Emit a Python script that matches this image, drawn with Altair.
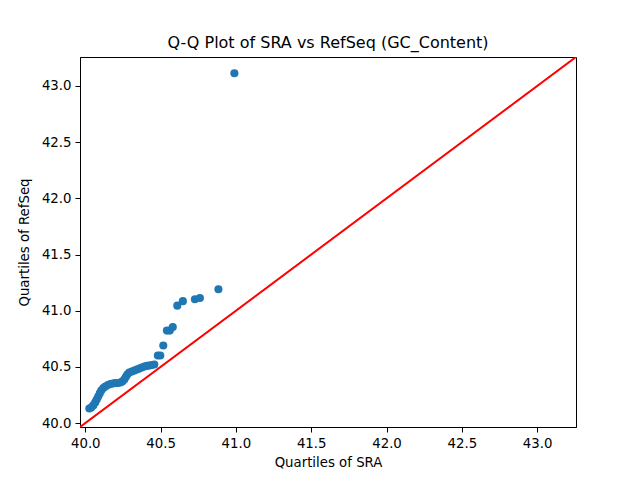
import altair as alt
import pandas as pd

# Sample quantiles of GC content (%) for the two sources
sra_q = [40.027, 40.040, 40.053, 40.066, 40.076, 40.086, 40.096, 40.106, 40.120,
         40.133, 40.150, 40.166, 40.183, 40.199, 40.216, 40.233, 40.246, 40.259,
         40.269, 40.279, 40.292, 40.309, 40.326, 40.342, 40.359, 40.375, 40.392,
         40.409, 40.425, 40.442, 40.458, 40.482, 40.498, 40.518, 40.542, 40.561,
         40.581, 40.611, 40.648, 40.728, 40.761, 40.884, 40.990]
refseq_q = [40.130, 40.139, 40.157, 40.184, 40.210, 40.237, 40.264, 40.290, 40.312,
            40.326, 40.339, 40.348, 40.352, 40.357, 40.357, 40.361, 40.370, 40.388,
            40.410, 40.432, 40.450, 40.459, 40.468, 40.477, 40.485, 40.494, 40.503,
            40.509, 40.512, 40.517, 40.521, 40.601, 40.601, 40.690, 40.823, 40.823,
            40.854, 41.045, 41.085, 41.102, 41.113, 41.191, 43.113]

# Shared axis limits; the reference line y = x spans them
lim = [39.965, 43.258]
ticks = [40.0, 40.5, 41.0, 41.5, 42.0, 42.5, 43.0]

pts = pd.DataFrame({"sra": sra_q, "refseq": refseq_q})
diag = pd.DataFrame({"sra": lim, "refseq": lim})

FONT = "DejaVu Sans"

x_enc = alt.X(
    "sra:Q",
    title="Quartiles of SRA",
    scale=alt.Scale(domain=lim, nice=False, zero=False),
    axis=alt.Axis(values=ticks, format=".1f"),
)
y_enc = alt.Y(
    "refseq:Q",
    title="Quartiles of RefSeq",
    scale=alt.Scale(domain=lim, nice=False, zero=False),
    axis=alt.Axis(values=ticks, format=".1f"),
)

points = alt.Chart(pts).mark_circle(size=66, color="#1f77b4", opacity=1).encode(
    x=x_enc, y=y_enc
)

line = alt.Chart(diag).mark_line(color="red", strokeWidth=2, clip=True).encode(
    x=alt.X("sra:Q", scale=alt.Scale(domain=lim, nice=False, zero=False)),
    y=alt.Y("refseq:Q", scale=alt.Scale(domain=lim, nice=False, zero=False)),
)

chart = (
    alt.layer(points, line)
    .properties(
        width=496,
        height=370,
        title=alt.Title(
            "Q-Q Plot of SRA vs RefSeq (GC_Content)",
            font=FONT,
            fontSize=16,
            fontWeight="normal",
            color="black",
            offset=6,
        ),
        autosize=alt.AutoSizeParams(type="none"),
        padding={"left": 80, "top": 57, "right": 64, "bottom": 53},
        background="white",
    )
    .configure_view(stroke="black", strokeWidth=1)
    .configure_axis(
        grid=False,
        domainColor="black",
        domainWidth=1,
        tickColor="black",
        tickSize=5,
        tickWidth=1,
        labelFont=FONT,
        labelFontSize=13.3,
        labelColor="black",
        labelPadding=4,
        titleFont=FONT,
        titleFontSize=13.3,
        titleFontWeight="normal",
        titleColor="black",
    )
    .configure_axisX(titlePadding=6)
    .configure_axisY(titlePadding=10)
)

chart.save("out.html", embed_options={"renderer": "svg", "actions": False})
